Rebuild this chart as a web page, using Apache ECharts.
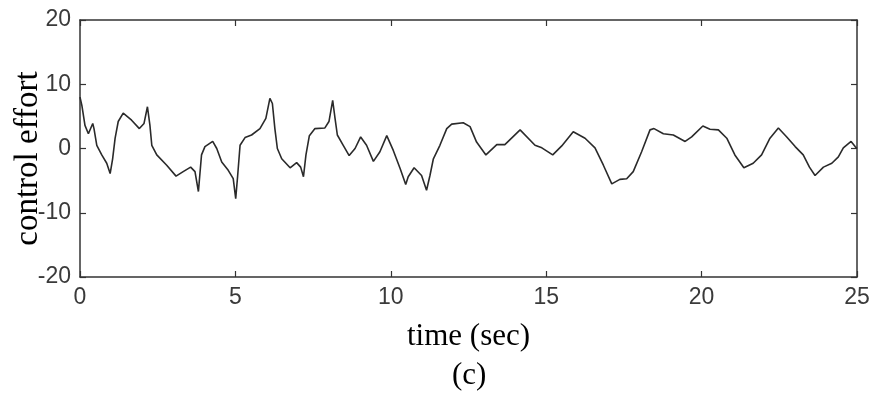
<!DOCTYPE html>
<html>
<head>
<meta charset="utf-8">
<script src="https://cdn.jsdelivr.net/npm/echarts@6/dist/echarts.min.js"></script>
<style>
  html, body { margin: 0; padding: 0; background: #fff; }
  #chart { width: 873px; height: 396px; }
</style>
</head>
<body>
<div id="chart"></div>
<script>
// Controller output over the simulation run
const timeSec = [
  0, 0.06, 0.16, 0.27, 0.41, 0.45, 0.54, 0.70, 0.86, 0.97,
  1.05, 1.13, 1.23, 1.39, 1.66, 1.91, 2.06, 2.17, 2.25, 2.31,
  2.47, 2.79, 3.09, 3.32, 3.56, 3.70, 3.81, 3.91, 4.02, 4.27,
  4.40, 4.56, 4.77, 4.93, 5.01, 5.07, 5.15, 5.31, 5.52, 5.79,
  5.98, 6.11, 6.19, 6.27, 6.35, 6.49, 6.76, 6.97, 7.10, 7.19,
  7.27, 7.38, 7.56, 7.88, 8.01, 8.13, 8.20, 8.28, 8.47, 8.66,
  8.85, 9.03, 9.22, 9.44, 9.65, 9.87, 10.08, 10.30, 10.48, 10.56,
  10.75, 10.99, 11.15, 11.26, 11.37, 11.58, 11.80, 11.96, 12.33, 12.55,
  12.76, 13.06, 13.41, 13.67, 14.16, 14.64, 14.86, 15.21, 15.50, 15.87,
  16.25, 16.57, 16.84, 17.11, 17.37, 17.59, 17.80, 18.07, 18.34, 18.47,
  18.77, 19.09, 19.47, 19.68, 20.04, 20.27, 20.54, 20.81, 21.07, 21.36,
  21.66, 21.93, 22.20, 22.47, 22.74, 23.01, 23.27, 23.47, 23.65, 23.92,
  24.19, 24.40, 24.56, 24.81, 24.94, 25.0
];
const effort = [
  8.0, 6.7, 3.6, 2.3, 3.9, 3.1, 0.5, -1.0, -2.3, -3.9,
  -1.6, 1.6, 4.2, 5.5, 4.4, 3.1, 3.9, 6.5, 3.6, 0.5,
  -1.0, -2.6, -4.3, -3.6, -2.9, -3.6, -6.7, -1.0, 0.3, 1.1,
  0.0, -2.1, -3.4, -4.7, -7.8, -4.4, 0.5, 1.7, 2.1, 3.1,
  4.7, 7.8, 7.0, 3.1, 0.0, -1.6, -3.0, -2.2, -2.9, -4.4,
  -1.0, 2.0, 3.1, 3.2, 4.2, 7.5, 4.9, 2.1, 0.5, -1.1,
  0.0, 1.8, 0.5, -2.0, -0.5, 2.0, -0.3, -3.1, -5.6, -4.4,
  -3.0, -4.2, -6.5, -4.2, -1.6, 0.5, 3.1, 3.8, 4.0, 3.4,
  1.0, -1.0, 0.6, 0.6, 2.9, 0.5, 0.1, -1.0, 0.4, 2.6,
  1.6, 0.1, -2.6, -5.5, -4.8, -4.7, -3.6, -0.5, 2.9, 3.1,
  2.3, 2.1, 1.1, 1.8, 3.5, 3.0, 2.9, 1.6, -1.0, -3.0,
  -2.3, -1.0, 1.6, 3.2, 1.8, 0.3, -1.0, -2.9, -4.2, -2.9,
  -2.3, -1.3, 0.1, 1.1, 0.3, 0.0
];
const xTicks = [0, 5, 10, 15, 20, 25];
const yTicks = [-20, -10, 0, 10, 20];
const xTitle = 'time (sec)';
const yTitle = 'control effort';
const panelTag = '(c)';

const tickFont = '"Liberation Sans", Arial, sans-serif';
const serifFont = '"Liberation Serif", "Times New Roman", serif';
const frameColor = '#333';

const chart = echarts.init(document.getElementById('chart'), null, { renderer: 'canvas' });

const xMin = xTicks[0], xMax = xTicks[xTicks.length - 1];
const yMin = yTicks[0], yMax = yTicks[yTicks.length - 1];
const xStep = xTicks[1] - xTicks[0];
const yStep = yTicks[1] - yTicks[0];

function frameAxis(extra) {
  return Object.assign({
    axisLine: { show: true, onZero: false, lineStyle: { color: frameColor, width: 1.5 } },
    axisTick: { show: true, inside: true, length: 6, lineStyle: { color: frameColor, width: 1.2 } },
    splitLine: { show: false }
  }, extra);
}

chart.setOption({
  animation: false,
  backgroundColor: '#fff',
  grid: { left: 80, right: 16, top: 20, bottom: 119, containLabel: false, outerBoundsMode: 'none' },
  xAxis: [
    frameAxis({
      type: 'value', min: xMin, max: xMax, interval: xStep, position: 'bottom',
      axisLabel: { fontFamily: tickFont, fontSize: 23, color: '#3a3a3a', margin: 9 },
      name: xTitle, nameLocation: 'middle', nameGap: 44, nameMoveOverlap: false,
      nameTextStyle: { fontFamily: serifFont, fontSize: 31, color: '#000' }
    }),
    frameAxis({
      type: 'value', min: xMin, max: xMax, interval: xStep, position: 'top',
      axisLabel: { show: false }
    })
  ],
  yAxis: [
    frameAxis({
      type: 'value', min: yMin, max: yMax, interval: yStep, position: 'left',
      axisLabel: { fontFamily: tickFont, fontSize: 23, color: '#3a3a3a', margin: 9 },
      name: yTitle, nameLocation: 'middle', nameGap: 35, nameRotate: 90, nameMoveOverlap: false,
      nameTextStyle: { fontFamily: serifFont, fontSize: 33, color: '#000', padding: [0, 20, 0, 0] }
    }),
    frameAxis({
      type: 'value', min: yMin, max: yMax, interval: yStep, position: 'right',
      axisLabel: { show: false }
    })
  ],
  graphic: [{
    type: 'text', left: 452, top: 360,
    style: { text: panelTag, font: '31px ' + serifFont, fill: '#000' }
  }],
  series: [{
    type: 'line',
    data: timeSec.map((t, i) => [t, effort[i]]),
    showSymbol: false,
    lineStyle: { color: '#2a2a2a', width: 1.6 },
    z: 3
  }]
});
</script>
</body>
</html>
